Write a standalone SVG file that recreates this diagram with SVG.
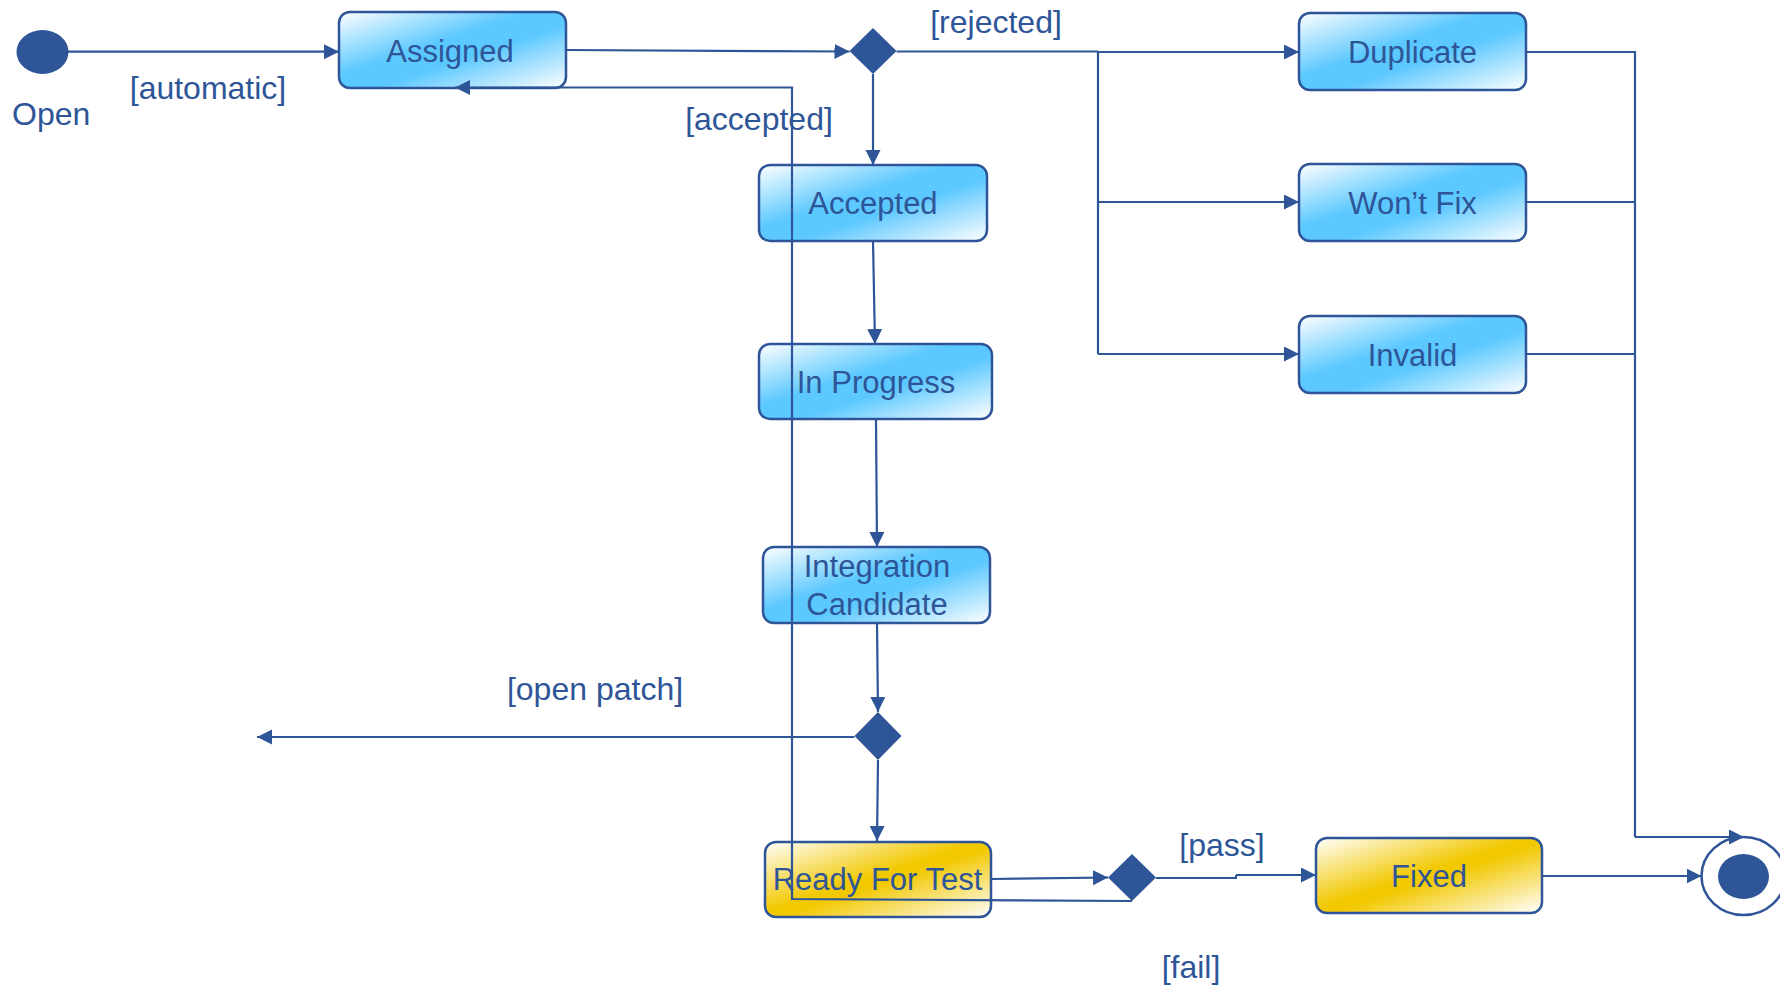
<svg xmlns="http://www.w3.org/2000/svg" width="1780" height="987" viewBox="0 0 1780 987">
<defs>
<linearGradient id="gBlue" x1="0" y1="0" x2="1" y2="1">
<stop offset="0" stop-color="#FFFFFF"/>
<stop offset="0.42" stop-color="#5BC8FF"/>
<stop offset="0.58" stop-color="#5BC8FF"/>
<stop offset="1" stop-color="#FFFFFF"/>
</linearGradient>
<linearGradient id="gGold" x1="0" y1="0" x2="1" y2="1">
<stop offset="0" stop-color="#FFFFFF"/>
<stop offset="0.47" stop-color="#F2C800"/>
<stop offset="0.53" stop-color="#F2C800"/>
<stop offset="1" stop-color="#FFFFFF"/>
</linearGradient>
<marker id="arr" markerUnits="userSpaceOnUse" markerWidth="16" markerHeight="16" refX="15" refY="7.5" orient="auto">
<path d="M0,0 L15,7.5 L0,15 z" fill="#2E5597"/>
</marker>
<style>
.box{stroke:#2E5597;stroke-width:2.5}
.blue{fill:url(#gBlue)}
.gold{fill:url(#gGold)}
.nt{font-family:"Liberation Sans",Arial,sans-serif;font-size:31px;fill:#2E5597;text-anchor:middle}
.lb{font-family:"Liberation Sans",Arial,sans-serif;font-size:32px;fill:#2E5597;text-anchor:middle}
.dec{fill:#2E5597}
.c{fill:none;stroke:#2E5597;stroke-width:2.2}
.ca{fill:none;stroke:#2E5597;stroke-width:2.2;marker-end:url(#arr)}
</style>
</defs>
<rect width="1780" height="987" fill="#FFFFFF"/>

<g id="open">
<ellipse cx="42.5" cy="52" rx="26" ry="22" fill="#2E5597"/>
<text x="12" y="125" class="lb" style="text-anchor:start">Open</text>
</g>
<g id="assigned">
<rect x="339" y="12" width="227" height="76" rx="11" class="box blue"/>
<text x="450" y="62" class="nt">Assigned</text>
</g>
<g id="decision1">
<polygon points="873,28 896.5,51 873,74 849.5,51" class="dec"/>
</g>
<g id="accepted">
<rect x="759" y="165" width="228" height="76" rx="11" class="box blue"/>
<text x="873" y="214" class="nt">Accepted</text>
</g>
<g id="inprogress">
<rect x="759" y="344" width="233" height="75" rx="11" class="box blue"/>
<text x="876" y="393" class="nt">In Progress</text>
</g>
<g id="integration">
<rect x="763" y="547" width="227" height="76" rx="11" class="box blue"/>
<text x="877" y="577" class="nt">Integration</text>
<text x="877" y="615" class="nt">Candidate</text>
</g>
<g id="decision2">
<polygon points="878,712 901.5,736 878,760 854.5,736" class="dec"/>
</g>
<g id="readyfortest">
<rect x="765" y="842" width="226" height="75" rx="11" class="box gold"/>
<text x="877.5" y="890" class="nt">Ready For Test</text>
</g>
<g id="decision3">
<polygon points="1132,854 1156,877.5 1132,901 1108,877.5" class="dec"/>
</g>
<g id="fixed">
<rect x="1316" y="838" width="226" height="75" rx="11" class="box gold"/>
<text x="1429" y="887" class="nt">Fixed</text>
</g>
<g id="duplicate">
<rect x="1299" y="13" width="227" height="77" rx="11" class="box blue"/>
<text x="1412.5" y="63" class="nt">Duplicate</text>
</g>
<g id="wontfix">
<rect x="1299" y="164" width="227" height="77" rx="11" class="box blue"/>
<text x="1412.5" y="214" class="nt">Won’t Fix</text>
</g>
<g id="invalid">
<rect x="1299" y="316" width="227" height="77" rx="11" class="box blue"/>
<text x="1412.5" y="366" class="nt">Invalid</text>
</g>
<g id="final">
<ellipse cx="1743.5" cy="876" rx="42" ry="39" fill="#FFFFFF" stroke="#2E5597" stroke-width="2.5"/>
<ellipse cx="1743.5" cy="876.5" rx="25.5" ry="22.5" fill="#2E5597"/>
</g>

<g id="connectors">
<path class="ca" d="M68,51.7 L339,51.7"/>
<path class="ca" d="M566,50 L849.5,51.5"/>
<path class="ca" d="M873,74 L873,165"/>
<path class="c" d="M896.5,51.5 L1098,51.5"/>
<path class="ca" d="M1098,52 L1299,52"/>
<path class="c" d="M1098,52 L1098,354"/>
<path class="ca" d="M1098,202 L1299,202"/>
<path class="ca" d="M1098,354 L1299,354"/>
<path class="c" d="M1526,52 L1635,52 L1635,837"/>
<path class="c" d="M1526,202 L1635,202"/>
<path class="c" d="M1526,354 L1635,354"/>
<path class="ca" d="M1635,837 L1744,837"/>
<path class="ca" d="M873,241 L875,344"/>
<path class="ca" d="M876,419 L877,547"/>
<path class="ca" d="M877,623 L878,712"/>
<path class="ca" d="M854.5,737 L257,737"/>
<path class="ca" d="M878,760 L877,841"/>
<path class="ca" d="M991,879 L1108,877.5"/>
<path class="c" d="M1156,878 L1236,878 L1236,875"/>
<path class="ca" d="M1236,875 L1316,875"/>
<path class="ca" d="M1542,876 L1701.5,876"/>
<path class="ca" d="M1132,901 L792,899 L792,87.5 L455,87.5"/>
<text x="208" y="99" class="lb">[automatic]</text>
<text x="996" y="33" class="lb">[rejected]</text>
<text x="759" y="130" class="lb">[accepted]</text>
<text x="595" y="700" class="lb">[open patch]</text>
<text x="1222" y="856" class="lb">[pass]</text>
<text x="1191" y="978" class="lb">[fail]</text>
</g>
</svg>
